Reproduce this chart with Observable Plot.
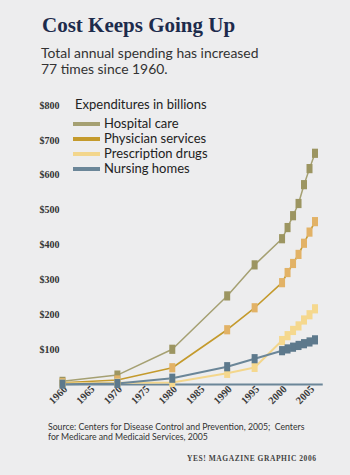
<!DOCTYPE html>
<html>
<head>
<meta charset="utf-8">
<script src="https://cdn.jsdelivr.net/npm/d3@7"></script>
<script src="https://cdn.jsdelivr.net/npm/@observablehq/plot@0.6"></script>
<style>
  html, body { margin: 0; padding: 0; background: #ededee; }
  #wrap { position: relative; width: 350px; height: 475px; overflow: hidden; font-family: Lato, "Open Sans", sans-serif; }
  #title { position: absolute; left: 42px; top: 13px; font: bold 21px "Liberation Serif", serif; color: #1d2b4c; white-space: nowrap; }
  #sub { position: absolute; left: 41px; top: 45px; font-size: 13.9px; line-height: 16px; color: #333; }
  #chart { position: absolute; left: 0; top: 90px; }
  #legend { position: absolute; left: 0; top: 0; width: 350px; height: 200px; pointer-events: none; }
  #legend .hd { position: absolute; left: 75px; top: 96px; font-size: 13px; color: #222; white-space: nowrap; }
  #legend .sw { position: absolute; left: 73px; width: 27px; height: 4px; }
  #legend .lb { position: absolute; left: 104px; font-size: 13px; line-height: 14px; color: #222; white-space: nowrap; }
  #src { position: absolute; left: 48px; top: 422px; font-size: 8.7px; line-height: 10px; color: #333; white-space: nowrap; }
  #credit { position: absolute; left: 187px; top: 454px; font: bold 7.5px "Liberation Serif", serif; letter-spacing: 0.55px; color: #444; white-space: nowrap; }
</style>
</head>
<body>
<div id="wrap">
  <div id="title">Cost Keeps Going Up</div>
  <div id="sub">Total annual spending has increased<br>77 times since 1960.</div>
  <div id="chart"></div>
  <div id="legend"></div>
  <div id="src">Source: Centers for Disease Control and Prevention, 2005;&nbsp; Centers<br>for Medicare and Medicaid Services, 2005</div>
  <div id="credit">YES! MAGAZINE GRAPHIC 2006</div>
</div>
<script>
// ---- data (billions of dollars) ----
const years     = [1960, 1970, 1980, 1990, 1995, 2000, 2001, 2002, 2003, 2004, 2005, 2006];
const hospital  = [9, 27, 101, 254, 343, 418, 450, 484, 519, 573, 619, 663];
const physician = [5, 13, 48, 157, 220, 292, 321, 347, 373, 405, 437, 467];
const drugs     = [3, 5, 6, 32, 49, 126, 140, 155, 168, 185, 200, 217];
const nursing   = [1, 3, 18, 51, 74, 97, 102, 107, 112, 117, 122, 128];
const seriesNames = ["Hospital care", "Physician services", "Prescription drugs", "Nursing homes"];
const yTicks = [100, 200, 300, 400, 500, 600, 700, 800];
const xTicks = [1960, 1965, 1970, 1975, 1980, 1985, 1990, 1995, 2000, 2005];

const lineColors   = ["#a5a072", "#c49a2c", "#f3d68c", "#6b8698"];
const markerColors = ["#9c9561", "#e2b266", "#f5d88e", "#5d798c"];
const lineWidths   = [1.5, 1.6, 2, 2];

const values = [hospital, physician, drugs, nursing];
const rows = [];
values.forEach((arr, si) => arr.forEach((v, i) => rows.push({series: seriesNames[si], si, year: years[i], value: v})));

// tall rectangular marker
const rectSymbol = {
  draw(context, size) {
    const r = Math.sqrt(size / Math.PI);
    const w = r * 1.5, h = r * 2.3;
    context.moveTo(-w / 2, -h / 2);
    context.lineTo(w / 2, -h / 2);
    context.lineTo(w / 2, h / 2);
    context.lineTo(-w / 2, h / 2);
    context.closePath();
  }
};

const marks = [
  Plot.ruleY([0], {x1: 1960, x2: 2007.5, stroke: "#6b8698", strokeWidth: 2.2}),
  Plot.axisY(yTicks, {tickSize: 0, tickPadding: 3, tickFormat: d => "$" + d, label: null,
    fontSize: 10, fontWeight: "bold", fontFamily: "Liberation Serif", fill: "#333"}),
  Plot.axisX(xTicks, {tickSize: 0, tickPadding: 3, tickRotate: -45, tickFormat: d => String(d), label: null,
    fontSize: 10.5, fontWeight: "bold", fontFamily: "Liberation Serif", fill: "#3a3a3a", dx: 3})
];
seriesNames.forEach((name, si) => {
  const d = rows.filter(r => r.si === si);
  marks.push(Plot.line(d, {x: "year", y: "value", stroke: lineColors[si], strokeWidth: lineWidths[si]}));
});
seriesNames.forEach((name, si) => {
  const d = rows.filter(r => r.si === si);
  marks.push(Plot.dot(d, {x: "year", y: "value", r: 4, symbol: rectSymbol, fill: markerColors[si], stroke: "none"}));
});

const chart = Plot.plot({
  width: 350,
  height: 324,
  marginTop: 15,
  marginLeft: 62,
  marginRight: 35.5,
  marginBottom: 30,
  x: {domain: [1960, 2006]},
  y: {domain: [0, 800]},
  style: {background: "transparent", overflow: "visible"},
  marks
});
document.getElementById("chart").appendChild(chart);

// legend
const lg = document.getElementById("legend");
const hd = document.createElement("div");
hd.className = "hd";
hd.textContent = "Expenditures in billions";
lg.appendChild(hd);
const legendY = [124, 139, 154, 169];
seriesNames.forEach((name, si) => {
  const sw = document.createElement("div");
  sw.className = "sw";
  sw.style.top = (legendY[si] - 2) + "px";
  sw.style.background = lineColors[si];
  lg.appendChild(sw);
  const lb = document.createElement("div");
  lb.className = "lb";
  lb.style.top = (legendY[si] - 8) + "px";
  lb.textContent = name;
  lg.appendChild(lb);
});
</script>
</body>
</html>
